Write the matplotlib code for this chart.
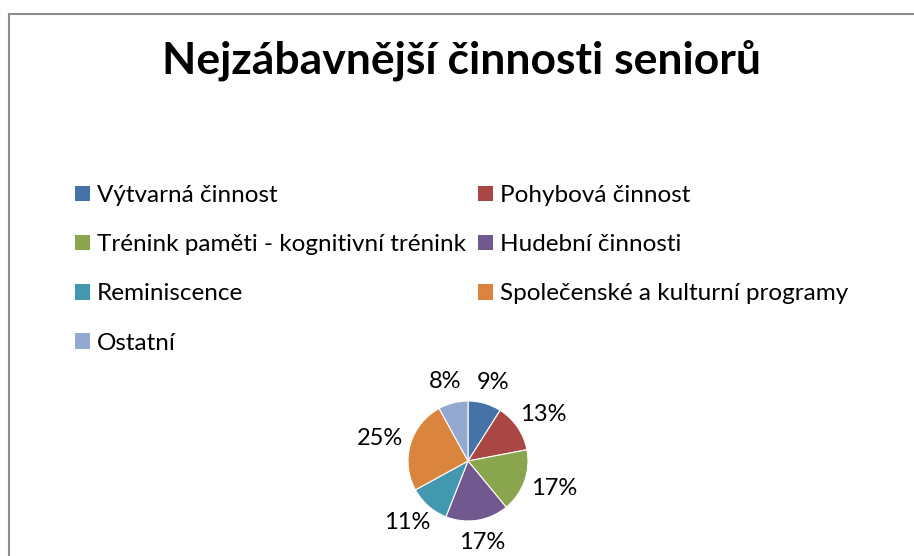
import numpy as np
import matplotlib
matplotlib.use("Agg")
import matplotlib.pyplot as plt
from matplotlib.patches import Patch
from matplotlib.lines import Line2D

plt.rcParams['font.family'] = ['Lato', 'DejaVu Sans']

title = "Nejzábavnější činnosti seniorů"
categories = ["Výtvarná činnost", "Pohybová činnost",
              "Trénink paměti - kognitivní trénink", "Hudební činnosti",
              "Reminiscence", "Společenské a kulturní programy", "Ostatní"]
values = [9, 13, 17, 17, 11, 25, 8]
colors = ["#4572A7", "#AA4643", "#89A54E", "#71588F", "#4198AF", "#DB843D", "#93A9CF"]

W, H, DPI = 914, 556, 100
fig = plt.figure(figsize=(W / DPI, H / DPI), dpi=DPI)
fig.patch.set_facecolor("white")

# border (top & left visible)
fig.add_artist(Line2D([8.5 / W, 8.5 / W], [0, 1 - 13.5 / H], transform=fig.transFigure,
                      color="#8c8c8c", lw=1.5))
fig.add_artist(Line2D([8.5 / W, 1], [1 - 13.5 / H, 1 - 13.5 / H], transform=fig.transFigure,
                      color="#8c8c8c", lw=1.5))

fig.text(462 / W, 1 - 60 / H, title, ha="center", va="center",
         fontsize=32, fontweight="bold", color="black")

# pie axes
R = 60.0
cx, cy = 468, 556 - 461
half = 150
ax = fig.add_axes([(cx - half) / W, (cy - 1.55 * R) / H, 2 * half / W, (1.55 * R + 2.6 * R) / H])
ax.set_axis_off()
wedges, _ = ax.pie(values, colors=colors, startangle=90, counterclock=False,
                   radius=1.0, wedgeprops=dict(linewidth=0.8, edgecolor="white"))
ax.set_xlim(-half / R, half / R)
ax.set_ylim(-1.55, 2.6)
ax.set_aspect("equal")

total = sum(values)
for w, v in zip(wedges, values):
    th = np.deg2rad((w.theta1 + w.theta2) / 2)
    txt = f"{round(100 * v / total)}%"
    ax.annotate(txt, xy=(1.12 * np.cos(th), 1.12 * np.sin(th)),
                xytext=(24 * np.cos(th), 15 * np.sin(th)), textcoords="offset pixels",
                ha="center", va="center", fontsize=17, color="black")

# legend filled row by row (matplotlib fills column-wise)
ncol = 2
nrow = int(np.ceil(len(categories) / ncol))
order = [r * ncol + c for c in range(ncol) for r in range(nrow) if r * ncol + c < len(categories)]
handles = [Patch(facecolor=colors[i], edgecolor="none") for i in order]
labels = [categories[i] for i in order]
leg = fig.legend(handles, labels, ncol=ncol, loc="upper left",
                 bbox_to_anchor=(75 / W, 1 - 185 / H), frameon=False,
                 fontsize=17.5, handlelength=0.6, handleheight=0.6,
                 handletextpad=0.3, columnspacing=0.5, labelspacing=1.16,
                 borderpad=0, borderaxespad=0)

fig.savefig("out.png", dpi=DPI, facecolor="white")
